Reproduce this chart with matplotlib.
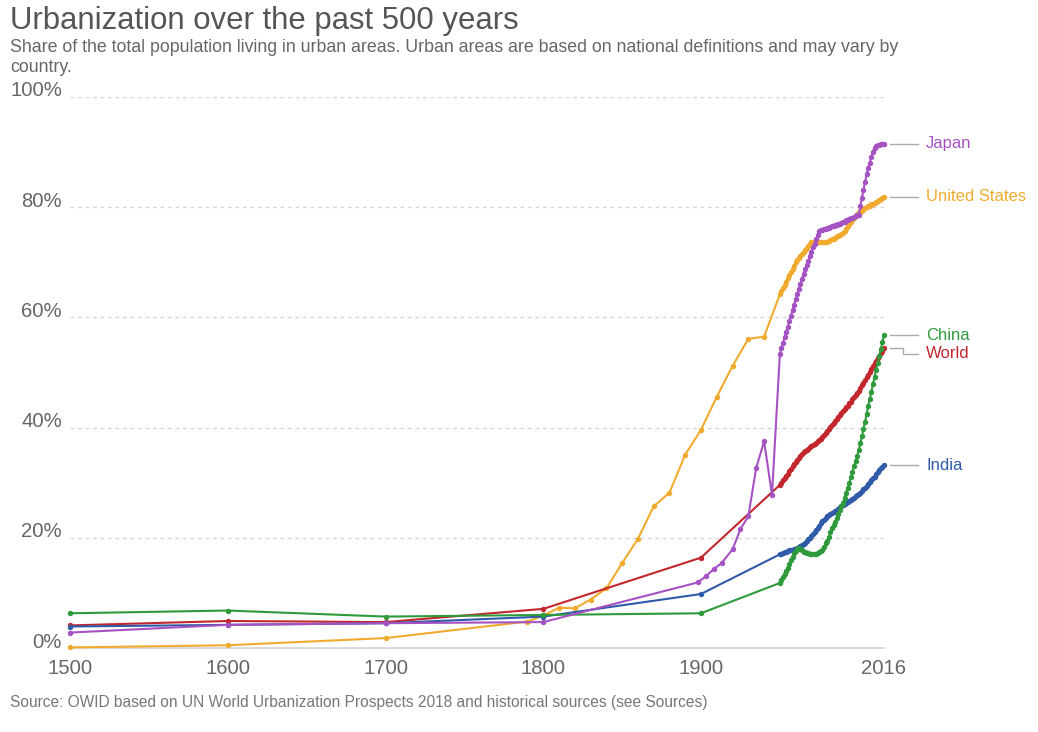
import matplotlib
matplotlib.use('Agg')
import matplotlib.pyplot as plt
from matplotlib.transforms import blended_transform_factory

plt.rcParams['font.family'] = ['Liberation Sans', 'DejaVu Sans']

# ---------------- data ----------------
annual_years = list(range(1950, 2017))

world_years = [1500, 1600, 1700, 1800, 1900] + annual_years
world = [4.1, 4.9, 4.7, 7.1, 16.4,
         29.6, 30.0, 30.4, 30.8, 31.2, 31.6, 32.1, 32.5, 33.0, 33.4,
         33.8, 34.1, 34.5, 34.9, 35.2, 35.6, 35.8, 36.0, 36.2, 36.4,
         36.6, 36.8, 37.0, 37.2, 37.5, 37.7, 38.0, 38.3, 38.6, 39.0,
         39.3, 39.7, 40.1, 40.5, 40.8, 41.2, 41.6, 41.9, 42.3, 42.6,
         43.0, 43.3, 43.7, 44.0, 44.4, 44.7, 45.1, 45.5, 45.9, 46.3,
         46.7, 47.2, 47.7, 48.1, 48.6, 49.1, 49.6, 50.1, 50.6, 51.2,
         51.7, 52.1, 52.6, 53.0, 53.5, 53.9, 54.4]

us_years = [1500, 1600, 1700, 1790, 1800, 1810, 1820, 1830, 1840, 1850,
            1860, 1870, 1880, 1890, 1900, 1910, 1920, 1930, 1940] + annual_years
us = [0.1, 0.5, 1.8, 4.8, 5.9, 7.3, 7.2, 8.8, 10.8, 15.4,
      19.8, 25.7, 28.2, 35.1, 39.6, 45.6, 51.2, 56.1, 56.5,
      64.2, 64.8, 65.4, 65.9, 66.5, 67.1, 67.7, 68.2, 68.8, 69.4,
      70.0, 70.4, 70.8, 71.1, 71.5, 71.9, 72.2, 72.6, 72.9, 73.3,
      73.6, 73.6, 73.6, 73.7, 73.7, 73.7, 73.7, 73.7, 73.7, 73.7,
      73.7, 73.9, 74.0, 74.2, 74.3, 74.5, 74.7, 74.8, 75.0, 75.1,
      75.3, 75.7, 76.1, 76.5, 76.9, 77.3, 77.7, 78.0, 78.4, 78.7,
      79.1, 79.2, 79.4, 79.6, 79.8, 80.0, 80.2, 80.3, 80.5, 80.6,
      80.8, 81.0, 81.1, 81.3, 81.5, 81.7, 81.9]

japan_years = [1500, 1600, 1700, 1800, 1898, 1903, 1908, 1913, 1920,
               1925, 1930, 1935, 1940, 1945] + annual_years
japan = [2.8, 4.2, 4.5, 4.7, 11.9, 13.0, 14.3, 15.4, 17.9,
         21.6, 23.9, 32.7, 37.5, 27.8,
         53.4, 54.4, 55.4, 56.4, 57.3, 58.3, 59.3, 60.3, 61.3, 62.3,
         63.3, 64.2, 65.1, 66.0, 67.0, 67.9, 68.7, 69.5, 70.3, 71.1,
         71.9, 72.7, 73.4, 74.2, 74.9, 75.7, 75.8, 75.9, 76.0, 76.1,
         76.2, 76.3, 76.4, 76.5, 76.6, 76.7, 76.8, 76.9, 77.0, 77.2,
         77.3, 77.4, 77.6, 77.7, 77.9, 78.0, 78.1, 78.2, 78.4, 78.5,
         78.6, 80.2, 81.7, 83.2, 84.6, 86.0, 87.1, 88.1, 89.1, 90.1,
         90.8, 91.1, 91.2, 91.3, 91.4, 91.4, 91.5]

china_years = [1500, 1600, 1700, 1800, 1900] + annual_years
china = [6.3, 6.8, 5.7, 6.0, 6.3,
         11.8, 12.3, 12.9, 13.4, 14.0, 14.6, 15.2, 15.9, 16.6, 17.2,
         17.6, 18.0, 18.1, 17.9, 17.7, 17.5, 17.4, 17.3, 17.2, 17.1,
         17.0, 17.0, 17.0, 17.1, 17.2, 17.4, 17.6, 17.8, 18.3, 19.0,
         19.4, 20.1, 21.0, 21.7, 22.3, 22.9, 23.6, 24.3, 25.0, 25.7,
         26.4, 27.3, 28.2, 29.1, 30.0, 31.0, 32.0, 33.0, 33.9, 34.9,
         35.9, 37.2, 38.4, 39.8, 41.1, 42.5, 43.9, 45.2, 46.5, 47.9,
         49.2, 50.5, 51.8, 53.0, 54.3, 55.5, 56.8]

india_years = [1500, 1600, 1700, 1800, 1900] + annual_years
india = [3.9, 4.2, 4.5, 5.7, 9.8,
         17.0, 17.1, 17.2, 17.4, 17.5, 17.6, 17.7, 17.7, 17.8, 17.9,
         17.9, 18.1, 18.3, 18.5, 18.7, 18.9, 19.1, 19.4, 19.7, 20.0,
         20.3, 20.6, 21.0, 21.4, 21.8, 22.2, 22.6, 23.0, 23.3, 23.6,
         23.9, 24.1, 24.3, 24.5, 24.7, 24.9, 25.1, 25.3, 25.5, 25.7,
         25.9, 26.1, 26.3, 26.5, 26.7, 26.9, 27.1, 27.3, 27.5, 27.7,
         27.9, 28.2, 28.5, 28.8, 29.1, 29.4, 29.7, 30.1, 30.4, 30.8,
         31.1, 31.5, 31.9, 32.3, 32.6, 32.9, 33.2]

series_names = ['United States', 'World', 'India', 'China', 'Japan']
series_years = [us_years, world_years, india_years, china_years, japan_years]
series_vals = [us, world, india, china, japan]
series_colors = ['#f0ab2f', '#c1272d', '#2f5ba8', '#2e9a3c', '#a552c2']
label_nudge = [0.0, -1.0, 0.0, 0.0, 0.0]

x_ticks = [1500, 1600, 1700, 1800, 1900, 2016]
y_ticks = [0, 20, 40, 60, 80, 100]

# ---------------- figure ----------------
W, H = 1038, 732
fig = plt.figure(figsize=(W / 100, H / 100), dpi=100)
ax_left, ax_right = 70, 884
ax_top, ax_bottom = 97, 648
ax = fig.add_axes([ax_left / W, 1 - ax_bottom / H,
                   (ax_right - ax_left) / W, (ax_bottom - ax_top) / H])
ax.set_xlim(1500, 2016)
ax.set_ylim(0, 100)

for s in ['top', 'right', 'left']:
    ax.spines[s].set_visible(False)
ax.spines['bottom'].set_color('#d6d6d6')
ax.spines['bottom'].set_linewidth(1.2)

# grid
for v in y_ticks[1:]:
    ax.axhline(v, color='#d4d4d4', lw=0.9, ls=(0, (3, 3)), zorder=0)

ax.set_yticks([])
ax.set_xticks(x_ticks)
ax.set_xticklabels([str(t) for t in x_ticks])
ax.tick_params(axis='x', length=0, pad=8, labelsize=14.6, labelcolor='#666666')

trans = blended_transform_factory(ax.transAxes, ax.transData)
for v in y_ticks:
    ax.annotate(f'{v}%', xy=(0, v), xycoords=trans, xytext=(-8, 6),
                textcoords='offset pixels', ha='right', va='center',
                fontsize=14.6, color='#666666')

# lines
for name, xs, ys, col, nd in zip(series_names, series_years, series_vals,
                                 series_colors, label_nudge):
    ax.plot(xs, ys, color=col, lw=1.5, marker='o', ms=3.9,
            markeredgewidth=0, clip_on=False, zorder=3)
    last = ys[-1]
    lab = last + nd
    x0 = 2016
    px0, py0 = ax.transData.transform((x0, last))
    py1 = ax.transData.transform((x0, lab))[1]
    xs_c = [px0 + 6, px0 + 19, px0 + 19, px0 + 34]
    ys_c = [py0, py0, py1, py1] if nd != 0 else [py0, py0, py0, py0]
    inv = ax.transData.inverted()
    pts = inv.transform(list(zip(xs_c, ys_c)))
    ax.plot(pts[:, 0], pts[:, 1], color='#aaaaaa', lw=1.0, clip_on=False, zorder=2)
    ax.annotate(name, xy=(x0, lab), xycoords='data', xytext=(42, 0),
                textcoords='offset pixels', ha='left', va='center',
                fontsize=12, color=col)

# titles
fig.text(10 / W, 1 - 21 / H, 'Urbanization over the past 500 years',
         fontsize=22.4, color='#555555', ha='left', va='center')
fig.text(10 / W, 1 - 47 / H,
         'Share of the total population living in urban areas. Urban areas are based on national definitions and may vary by',
         fontsize=12.8, color='#666666', ha='left', va='center')
fig.text(10 / W, 1 - 67 / H, 'country.',
         fontsize=12.8, color='#666666', ha='left', va='center')
fig.text(10 / W, 1 - 702 / H,
         'Source: OWID based on UN World Urbanization Prospects 2018 and historical sources (see Sources)',
         fontsize=11.2, color='#777777', ha='left', va='center')

fig.savefig('out.png', dpi=100, facecolor='white')
